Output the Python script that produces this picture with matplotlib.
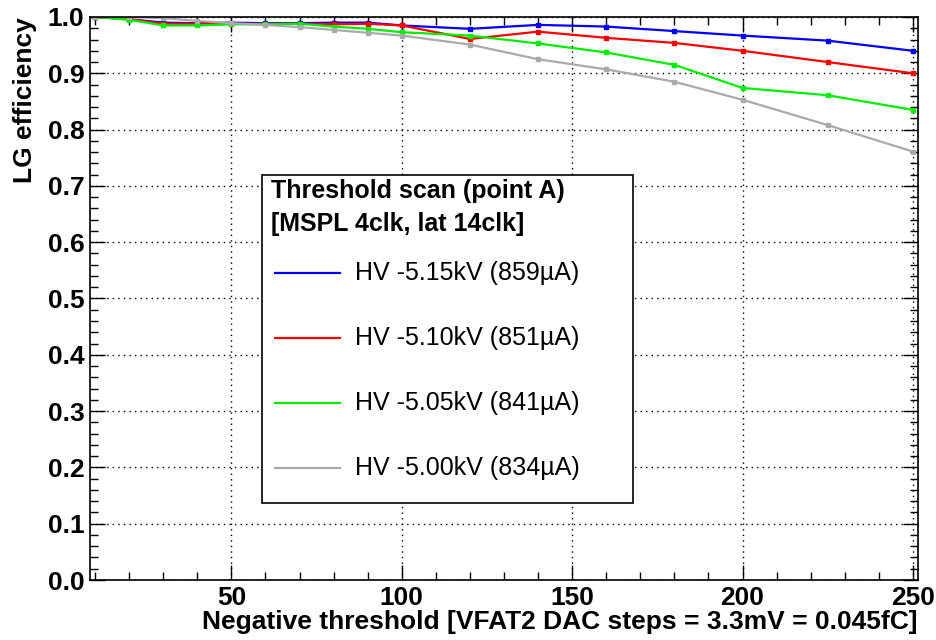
import matplotlib
matplotlib.use('Agg')
import matplotlib.pyplot as plt
from matplotlib.ticker import MultipleLocator, FormatStrFormatter
from matplotlib.patches import Rectangle
from matplotlib.lines import Line2D

plt.rcParams['font.family'] = ['Liberation Sans', 'DejaVu Sans']

# threshold points (DAC steps)
thr = [10, 20, 30, 40, 50, 60, 70, 80, 90, 100, 120, 140, 160, 180, 200, 225, 250]

eff_515 = [1.000, 0.996, 0.990, 0.989, 0.990, 0.989, 0.989, 0.990, 0.990, 0.985,
           0.979, 0.986, 0.983, 0.975, 0.967, 0.958, 0.940]
eff_510 = [1.000, 0.996, 0.988, 0.988, 0.988, 0.988, 0.988, 0.987, 0.988, 0.985,
           0.961, 0.974, 0.963, 0.954, 0.940, 0.920, 0.900]
eff_505 = [1.000, 0.995, 0.985, 0.985, 0.987, 0.987, 0.988, 0.983, 0.979, 0.973,
           0.967, 0.953, 0.937, 0.915, 0.874, 0.861, 0.835]
eff_500 = [1.000, 1.000, 0.998, 0.993, 0.989, 0.986, 0.982, 0.977, 0.972, 0.967,
           0.951, 0.925, 0.907, 0.885, 0.853, 0.808, 0.761]

series = [
    (eff_515, 'HV -5.15kV (859\u00b5A)', '#0000ff'),
    (eff_510, 'HV -5.10kV (851\u00b5A)', '#ff0000'),
    (eff_505, 'HV -5.05kV (841\u00b5A)', '#00ee00'),
    (eff_500, 'HV -5.00kV (834\u00b5A)', '#aaaaaa'),
]

W, H = 937, 640


def fx(px):
    return px / W


def fy(py):
    return 1 - py / H


fig = plt.figure(figsize=(W / 100, H / 100), dpi=100)
ax = fig.add_axes([fx(90), fy(580), 828 / W, 563 / H])

for eff, label, color in series:
    ax.errorbar(thr, eff, yerr=0.003, color=color, lw=1.6, marker='s', ms=3.5,
                elinewidth=1.2, capsize=0, label=label)

ax.set_xlim(8.5, 251.5)
ax.set_ylim(0.0, 1.0)
ax.xaxis.set_major_locator(MultipleLocator(50))
ax.xaxis.set_minor_locator(MultipleLocator(10))
ax.yaxis.set_major_locator(MultipleLocator(0.1))
ax.yaxis.set_minor_locator(MultipleLocator(0.02))
ax.yaxis.set_major_formatter(FormatStrFormatter('%.1f'))
ax.grid(True, which='major', color='black', linestyle=(0, (1, 3)), linewidth=1.0)

ax.tick_params(which='both', direction='in', top=True, right=True, width=1)
ax.tick_params(which='major', length=11, labelsize=19, pad=4)
ax.tick_params(which='minor', length=6)
for lab in ax.get_xticklabels() + ax.get_yticklabels():
    lab.set_fontweight('bold')
for sp in ax.spines.values():
    sp.set_linewidth(1.2)

ax.set_xlabel('Negative threshold [VFAT2 DAC steps = 3.3mV = 0.045fC]',
              fontsize=19, fontweight='bold', loc='right', labelpad=0)
ax.set_ylabel('LG efficiency', fontsize=19, fontweight='bold', loc='top', labelpad=8)

# legend box, ROOT-style
fig.patches.append(Rectangle((fx(262), fy(503)), fx(633) - fx(262), fy(175) - fy(503),
                             transform=fig.transFigure, facecolor='white',
                             edgecolor='black', linewidth=1.2, zorder=5))
fig.text(fx(271), fy(191), 'Threshold scan (point A)', fontsize=18, fontweight='bold',
         va='center', ha='left', zorder=6)
fig.text(fx(271), fy(224), '[MSPL 4clk, lat 14clk]', fontsize=18, fontweight='bold',
         va='center', ha='left', zorder=6)
for i, (_, label, color) in enumerate(series):
    yy = 273 + 65 * i
    fig.lines.append(Line2D([fx(275), fx(340)], [fy(yy), fy(yy)], transform=fig.transFigure,
                            color=color, lw=1.6, zorder=6))
    fig.text(fx(355), fy(yy), label, fontsize=18, va='center', ha='left', zorder=6)

fig.savefig('out.png', dpi=100)
